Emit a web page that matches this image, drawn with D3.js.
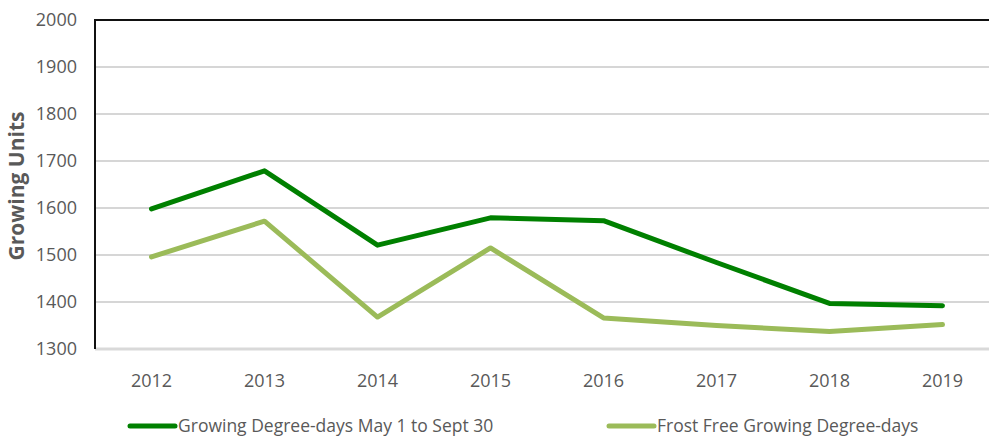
<!DOCTYPE html>
<html>
<head>
<meta charset="utf-8">
<script src="https://cdn.jsdelivr.net/npm/d3@7"></script>
<style>
  body { margin: 0; background: #fff; }
  text { font-family: "Liberation Sans Narrow", "Arial Narrow", "Open Sans", sans-serif; fill: #595959; }
</style>
</head>
<body>
<div id="chart"></div>
<script>
// Data
var years = ['2012', '2013', '2014', '2015', '2016', '2017', '2018', '2019']
var gddMaySept = [1598, 1679, 1521, 1579, 1573, 1484, 1397, 1392]
var gddFrostFree = [1496, 1572, 1368, 1515, 1366, 1350, 1337, 1352]
var yTicks = [1300, 1400, 1500, 1600, 1700, 1800, 1900, 2000]
var seriesNames = ['Growing Degree-days May 1 to Sept 30', 'Frost Free Growing Degree-days']
var seriesColors = ['#008000', '#9BBB59']

var width = 989, height = 438
var margin = {left: 95, right: -10, top: 20, bottom: 89}

var svg = d3.select('#chart').append('svg')
  .attr('width', width).attr('height', height)

var x = d3.scaleBand().domain(years).range([margin.left, width - margin.right])
var y = d3.scaleLinear().domain([1300, 2000]).range([height - margin.bottom, margin.top])

// gridlines
svg.append('g').selectAll('line')
  .data(yTicks.slice(1, -1))
  .join('line')
  .attr('x1', margin.left).attr('x2', width)
  .attr('y1', d => y(d)).attr('y2', d => y(d))
  .attr('stroke', '#c8c8c8').attr('stroke-width', 1.5)

// top border
svg.append('line')
  .attr('x1', margin.left).attr('x2', width)
  .attr('y1', y(2000)).attr('y2', y(2000))
  .attr('stroke', '#111').attr('stroke-width', 2)

// bottom axis line
svg.append('line')
  .attr('x1', margin.left).attr('x2', width)
  .attr('y1', y(1300)).attr('y2', y(1300))
  .attr('stroke', '#d9d9d9').attr('stroke-width', 3)

// left axis line
svg.append('line')
  .attr('x1', margin.left).attr('x2', margin.left)
  .attr('y1', y(2000) - 1).attr('y2', y(1300))
  .attr('stroke', '#111').attr('stroke-width', 2)

// y tick labels
svg.append('g').selectAll('text')
  .data(yTicks)
  .join('text')
  .attr('x', 77).attr('y', d => y(d))
  .attr('dy', '0.35em')
  .attr('text-anchor', 'end')
  .style('font-size', '18px')
  .text(d => d)

// x tick labels
svg.append('g').selectAll('text')
  .data(years)
  .join('text')
  .attr('x', d => x(d) + x.bandwidth() / 2)
  .attr('y', 381)
  .attr('dy', '0.35em')
  .attr('text-anchor', 'middle')
  .style('font-size', '18px')
  .text(d => d)

// y title
svg.append('text')
  .attr('transform', 'translate(17,' + 186 + ') rotate(-90)')
  .attr('text-anchor', 'middle')
  .attr('dy', '0.35em')
  .style('font-family', '"Open Sans", sans-serif')
  .style('font-weight', 'bold')
  .style('font-size', '21px')
  .text('Growing Units')

// lines
var line = d3.line()
  .x((d, i) => x(years[i]) + x.bandwidth() / 2)
  .y(d => y(d))

;[gddFrostFree, gddMaySept].forEach(function(vals, k){
  svg.append('path')
    .attr('d', line(vals))
    .attr('fill', 'none')
    .attr('stroke', seriesColors[1 - k])
    .attr('stroke-width', 5)
    .attr('stroke-linejoin', 'round')
    .attr('stroke-linecap', 'round')
})

// legend
var legendX = [130, 609]
var lg = svg.append('g').selectAll('g')
  .data(seriesNames)
  .join('g')
  .attr('transform', (d, i) => 'translate(' + legendX[i] + ',426)')

lg.append('line')
  .attr('x1', 0).attr('x2', 45)
  .attr('stroke', (d, i) => seriesColors[i])
  .attr('stroke-width', 5)
  .attr('stroke-linecap', 'round')

lg.append('text')
  .attr('x', 48).attr('dy', '0.35em')
  .style('font-size', '17.5px')
  .text(d => d)
</script>
</body>
</html>
